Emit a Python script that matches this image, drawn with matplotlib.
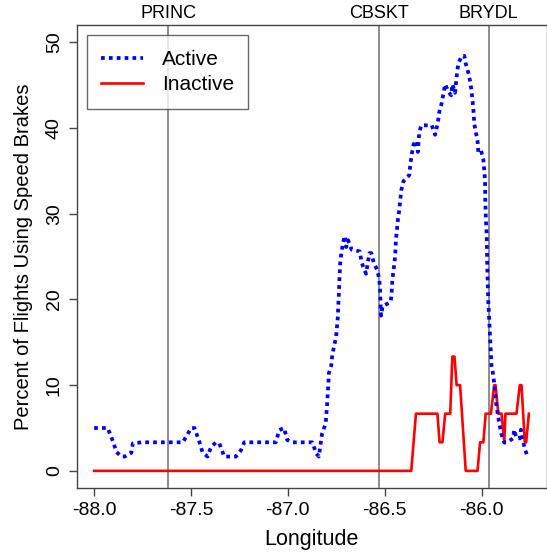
import numpy as np
import matplotlib.pyplot as plt

plt.rcParams['font.family'] = ['Liberation Sans', 'DejaVu Sans']

# Active (blue, dotted) - longitude vs percent
active_lon = [-88.0, -87.93, -87.902, -87.885, -87.859, -87.842, -87.808, -87.80, -87.756,
              -87.542, -87.499, -87.482, -87.457, -87.441, -87.415, -87.396, -87.371, -87.354,
              -87.328, -87.268, -87.242, -87.225, -87.062, -87.045, -87.02, -87.003, -86.977,
              -86.874, -86.853, -86.84, -86.823, -86.805, -86.797, -86.788, -86.776, -86.771,
              -86.762, -86.751, -86.746, -86.742, -86.740, -86.737, -86.735, -86.733, -86.730,
              -86.725, -86.716, -86.707, -86.699, -86.689, -86.671, -86.629, -86.620, -86.607,
              -86.596, -86.588, -86.579, -86.569, -86.557, -86.538, -86.528, -86.524, -86.522,
              -86.521, -86.519, -86.511, -86.469, -86.464, -86.461, -86.456, -86.449, -86.445,
              -86.442, -86.437, -86.432, -86.425, -86.420, -86.414, -86.403, -86.373, -86.368,
              -86.360, -86.351, -86.339, -86.329, -86.322, -86.312, -86.257, -86.240, -86.226,
              -86.219, -86.206, -86.197, -86.188, -86.171, -86.157, -86.151, -86.137, -86.132,
              -86.127, -86.120, -86.103, -86.089, -86.082, -86.068, -86.058, -86.051, -86.046,
              -86.041, -86.038, -86.029, -86.021, -86.017, -86.003, -85.991, -85.986, -85.982,
              -85.981, -85.979, -85.977, -85.974, -85.971, -85.966, -85.957, -85.952, -85.949,
              -85.940, -85.935, -85.928, -85.923, -85.914, -85.905, -85.897, -85.883, -85.871,
              -85.837, -85.832, -85.820, -85.803, -85.797, -85.791, -85.781, -85.774, -85.764]
active_pct = [5.0, 5.0, 3.4, 2.2, 1.67, 1.67, 2.1, 3.2, 3.33,
              3.33, 5.0, 5.0, 3.4, 2.2, 1.67, 2.8, 3.33, 3.2,
              1.67, 1.67, 2.4, 3.33, 3.33, 4.75, 5.0, 3.6, 3.33,
              3.33, 2.0, 1.67, 4.4, 5.5, 7.9, 11.4, 12.3, 13.5,
              14.5, 15.6, 16.9, 18.0, 19.2, 20.5, 21.7, 22.8, 24.2,
              25.2, 26.5, 27.4, 26.1, 26.9, 25.8, 25.6, 24.4, 23.5,
              23.0, 24.2, 25.4, 25.4, 24.3, 23.4, 22.3, 21.1, 19.9,
              18.8, 18.1, 19.2, 19.7, 20.9, 22.1, 23.2, 24.4, 25.6,
              27.0, 28.1, 29.3, 30.4, 31.6, 32.8, 33.8, 34.5, 35.7,
              37.0, 38.1, 38.5, 37.2, 39.4, 40.3, 40.3, 39.2, 40.6,
              41.8, 42.9, 44.0, 45.1, 44.2, 43.8, 45.1, 44.1, 45.2,
              46.4, 47.5, 48.4, 48.4, 47.5, 46.4, 45.3, 44.1, 43.0,
              41.7, 40.5, 39.4, 38.5, 37.2, 37.4, 36.3, 35.0, 33.7,
              31.4, 30.2, 28.9, 27.7, 24.0, 20.0, 15.8, 13.5, 12.3,
              11.2, 10.2, 8.6, 7.5, 6.3, 5.1, 4.2, 3.3, 3.3,
              3.8, 4.8, 3.8, 3.8, 4.8, 3.8, 3.0, 2.4, 1.7]

# Inactive (red, solid)
inactive_lon = [-88.0, -86.363, -86.339, -86.228, -86.217, -86.202, -86.188, -86.162, -86.151,
                -86.140, -86.129, -86.111, -86.082, -86.021, -86.008, -85.991, -85.979, -85.952,
                -85.935, -85.928, -85.914, -85.897, -85.883, -85.877, -85.820, -85.803, -85.794,
                -85.777, -85.770, -85.756]
inactive_pct = [0, 0, 6.67, 6.67, 3.33, 3.33, 6.67, 6.67, 13.33,
                13.33, 10.0, 10.0, 0, 0, 3.33, 3.33, 6.67, 6.67,
                10.0, 10.0, 6.67, 6.67, 3.33, 6.67, 6.67, 10.0, 10.0,
                3.33, 3.33, 6.67]

# waypoints
fix_names = ['PRINC', 'CBSKT', 'BRYDL']
fix_lon = [-87.617, -86.53, -85.964]

fig = plt.figure(figsize=(5.47, 5.55), dpi=100)
ax = fig.add_axes([0.1402, 0.1207, 0.8589, 0.8342])

for name, lon in zip(fix_names, fix_lon):
    ax.axvline(lon, color='#8c8c8c', lw=1.4, zorder=1)
    ax.text(lon, 1.006, name, transform=ax.get_xaxis_transform(),
            ha='center', va='bottom', fontsize=13)

ax.plot(active_lon, active_pct, color='#0000ff', lw=2.7,
        linestyle=(0, (1.0, 1.1)), label='Active', zorder=3)
ax.plot(inactive_lon, inactive_pct, color='#ff0000', lw=1.9,
        label='Inactive', zorder=2)

ax.set_xlim(-88.09, -85.665)
ax.set_ylim(-2, 52)
ax.set_xticks([-88.0, -87.5, -87.0, -86.5, -86.0])
ax.set_xticklabels(['-88.0', '-87.5', '-87.0', '-86.5', '-86.0'])
ax.set_yticks([0, 10, 20, 30, 40, 50])
ax.tick_params(axis='both', length=6, width=1, color='#444444', labelsize=14, pad=4)
for lab in ax.get_yticklabels():
    lab.set_rotation(90)
    lab.set_va('center')
for sp in ax.spines.values():
    sp.set_color('#444444')
    sp.set_linewidth(1)

ax.set_xlabel('Longitude', fontsize=15.5, labelpad=7)
ax.set_ylabel('Percent of Flights Using Speed Brakes', fontsize=14.5, labelpad=9)

leg = ax.legend(loc='upper left', bbox_to_anchor=(0.0213, 0.978), borderaxespad=0,
                fancybox=False, edgecolor='#444444', fontsize=15,
                handlelength=2.0, handletextpad=0.9, borderpad=0.7, labelspacing=0.3)
leg.get_frame().set_linewidth(1)

fig.savefig('out.png', dpi=100)
